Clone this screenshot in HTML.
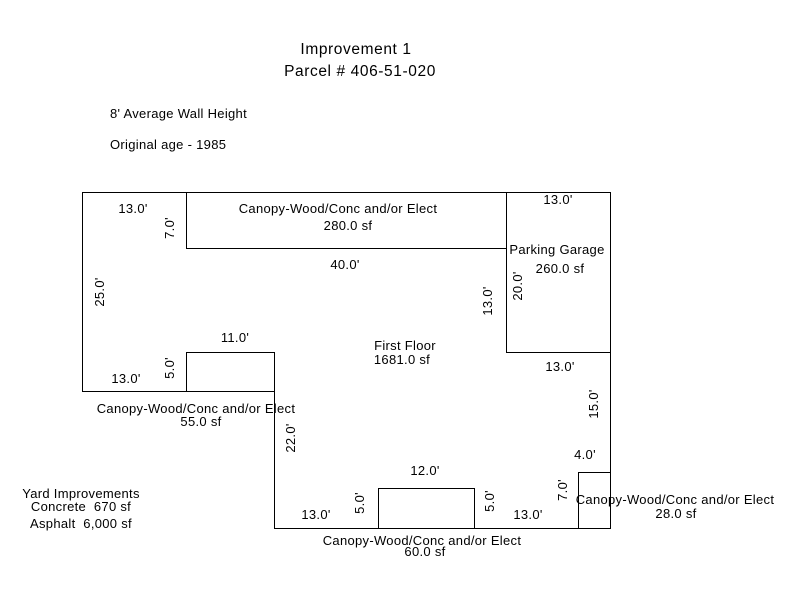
<!DOCTYPE html>
<html><head><style>body{margin:0;background:#fff}svg{display:block}text{font-family:"Liberation Sans",Arial,sans-serif;font-size:13px;letter-spacing:0.3px;fill:#000}</style></head>
<body>
<svg width="800" height="600" viewBox="0 0 800 600">
<g fill="none" stroke="#000" stroke-width="1">
<path d="M82.5 192.5H610.5V528.5H274.5V391.5H82.5Z"/>
<rect x="186.5" y="192.5" width="320" height="56"/>
<rect x="506.5" y="192.5" width="104" height="160"/>
<rect x="186.5" y="352.5" width="88" height="39"/>
<rect x="378.5" y="488.5" width="96" height="40"/>
<rect x="578.5" y="472.5" width="32" height="56"/>
</g>
<text x="356" y="54" text-anchor="middle" style="font-size:15.5px;letter-spacing:0.6px">Improvement 1</text>
<text x="360" y="76" text-anchor="middle" style="font-size:15.5px;letter-spacing:0.6px">Parcel # 406-51-020</text>
<text x="110" y="118">8' Average Wall Height</text>
<text x="110" y="149">Original age - 1985</text>
<text x="133" y="213" text-anchor="middle">13.0'</text>
<text x="338" y="213" text-anchor="middle">Canopy-Wood/Conc and/or Elect</text>
<text x="348" y="230" text-anchor="middle">280.0 sf</text>
<text x="558" y="204" text-anchor="middle">13.0'</text>
<text x="557" y="254" text-anchor="middle">Parking Garage</text>
<text x="560" y="273" text-anchor="middle">260.0 sf</text>
<text x="345" y="269" text-anchor="middle">40.0'</text>
<text x="405" y="350" text-anchor="middle">First Floor</text>
<text x="402" y="364" text-anchor="middle">1681.0 sf</text>
<text x="235" y="342" text-anchor="middle">11.0'</text>
<text x="126" y="383" text-anchor="middle">13.0'</text>
<text x="196" y="413" text-anchor="middle">Canopy-Wood/Conc and/or Elect</text>
<text x="201" y="426" text-anchor="middle">55.0 sf</text>
<text x="560" y="371" text-anchor="middle">13.0'</text>
<text x="585" y="459" text-anchor="middle">4.0'</text>
<text x="425" y="475" text-anchor="middle">12.0'</text>
<text x="316" y="519" text-anchor="middle">13.0'</text>
<text x="528" y="519" text-anchor="middle">13.0'</text>
<text x="675" y="504" text-anchor="middle">Canopy-Wood/Conc and/or Elect</text>
<text x="676" y="518" text-anchor="middle">28.0 sf</text>
<text x="422" y="545" text-anchor="middle">Canopy-Wood/Conc and/or Elect</text>
<text x="425" y="556" text-anchor="middle">60.0 sf</text>
<text x="81" y="498" text-anchor="middle">Yard Improvements</text>
<text x="81" y="511" text-anchor="middle">Concrete&#160;&#160;670 sf</text>
<text x="81" y="528" text-anchor="middle">Asphalt&#160;&#160;6,000 sf</text>
<g>
<text transform="translate(104,292) rotate(-90)" text-anchor="middle">25.0'</text>
<text transform="translate(174,228) rotate(-90)" text-anchor="middle">7.0'</text>
<text transform="translate(174,368) rotate(-90)" text-anchor="middle">5.0'</text>
<text transform="translate(295,438) rotate(-90)" text-anchor="middle">22.0'</text>
<text transform="translate(492,301) rotate(-90)" text-anchor="middle">13.0'</text>
<text transform="translate(522,286) rotate(-90)" text-anchor="middle">20.0'</text>
<text transform="translate(598,404) rotate(-90)" text-anchor="middle">15.0'</text>
<text transform="translate(567,490) rotate(-90)" text-anchor="middle">7.0'</text>
<text transform="translate(364,503) rotate(-90)" text-anchor="middle">5.0'</text>
<text transform="translate(494,501) rotate(-90)" text-anchor="middle">5.0'</text>
</g>
</svg>
</body></html>
